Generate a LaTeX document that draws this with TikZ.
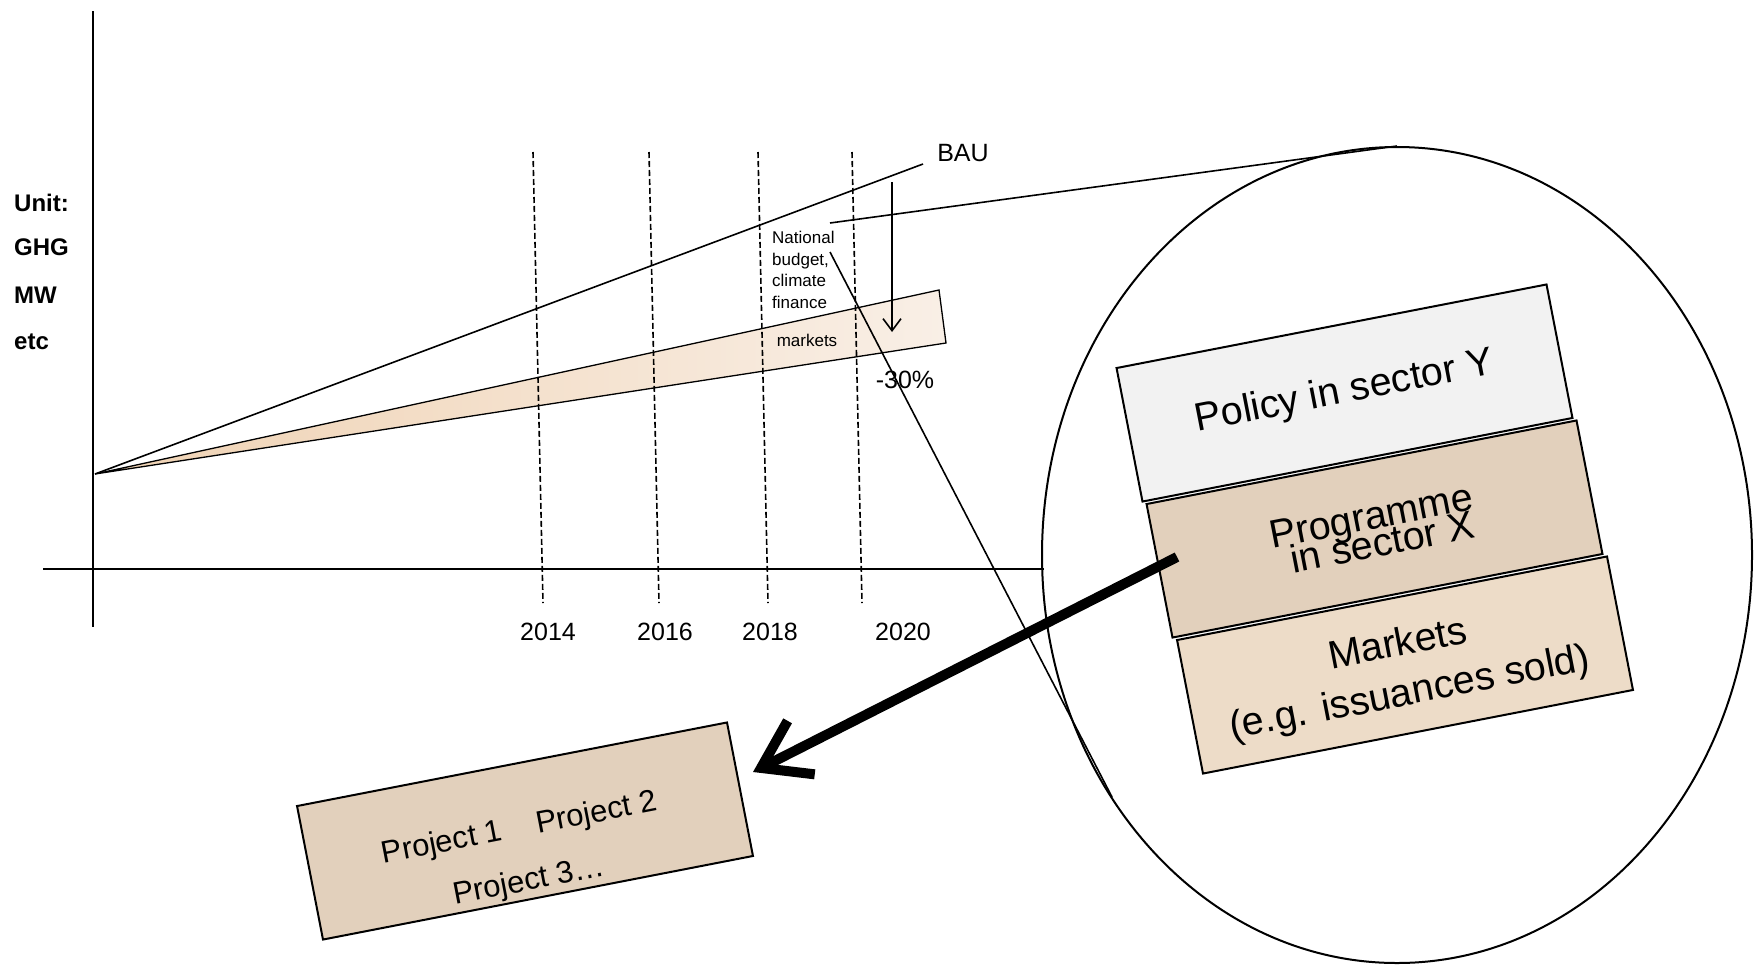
\documentclass[tikz,border=0pt]{standalone}
\usepackage{fontspec}
\setmainfont{Liberation Sans}
\usetikzlibrary{arrows.meta,calc,shapes.geometric}
\definecolor{policyfill}{HTML}{F2F2F2}
\definecolor{progfill}{HTML}{E2D0BC}
\definecolor{mktfill}{HTML}{EDDCC8}
\definecolor{bandL}{HTML}{EFD2B3}
\definecolor{bandR}{HTML}{F9EFE6}
\begin{document}
\begin{tikzpicture}[x=1pt,y=-1pt,
  thinline/.style={line width=1.6pt},
  gridline/.style={line width=1.6pt, dash pattern=on 6pt off 3pt},
  layerbox/.style={draw, line width=2pt, rotate=11, minimum width=438pt,
    minimum height=136pt, inner sep=0pt, align=center},
  boxline/.style={rotate=11, anchor=base, inner sep=0pt, font=\fontsize{39.5}{46}\selectfont},
  projline/.style={rotate=11, anchor=base, inner sep=0pt, font=\fontsize{31}{36}\selectfont},
  yearlbl/.style={font=\fontsize{25}{29}\selectfont},
  unitlbl/.style={anchor=west, inner sep=0pt, font=\bfseries\fontsize{24}{28}\selectfont},
  smalltxt/.style={inner sep=0pt, font=\fontsize{17}{21.7}\selectfont, align=left}
]
\useasboundingbox (0,0) rectangle (1760,967);

% axes
\coordinate (vtop) at (93,11);
\coordinate (vbot) at (93,627);
\coordinate (hl) at (43,569);
\coordinate (hr) at (1044,569);
\draw[thinline] (vtop) -- (vbot);
\draw[thinline] (hl) -- (hr);

% band and BAU
\coordinate (O) at (95,474);
\coordinate (bandT) at (939,290);
\coordinate (bandB) at (946,343);
\coordinate (bauE) at (923,164);
\fill[left color=bandL, right color=bandR] (O) -- (bandT) -- (bandB) -- cycle;
\draw[line width=1.3pt] (O) -- (bandT) -- (bandB) -- cycle;
\draw[thinline] (O) -- (bauE);

% dashed year lines
\draw[gridline] (533,152) -- (543,603);
\draw[gridline] (649,152) -- (659,603);
\draw[gridline] (758,152) -- (768,603);
\draw[gridline] (852,152) -- (862,603);

\node[yearlbl] (y14) at (548,632) {2014};
\node[yearlbl] (y16) at (665,632) {2016};
\node[yearlbl] (y18) at (770,632) {2018};
\node[yearlbl] (y20) at (903,632) {2020};

% unit labels
\node[unitlbl] (u1) at (14,203) {Unit:};
\node[unitlbl] (u2) at (14,247) {GHG};
\node[unitlbl] (u3) at (14,295) {MW};
\node[unitlbl] (u4) at (14,342) {etc};

\node[font=\fontsize{25}{30}\selectfont] (bau) at (963,153) {BAU};
\node[smalltxt, anchor=north west] (natl) at (772,231) {National\\budget,\\climate\\finance};
\node[smalltxt] (mkts) at (807,340) {markets};
\node[font=\fontsize{25}{30}\selectfont, inner sep=0pt] (pct) at (905,380) {-30\%};

% reduction arrow
\coordinate (redS) at (892,182);
\coordinate (redE) at (892,332);
\draw[thinline, -{Straight Barb[length=12pt,width=18pt]}] (redS) -- (redE);

% zoom ellipse
\node[draw, ellipse, line width=2pt, minimum width=710pt, minimum height=816pt, inner sep=0pt] (ell) at (1397,555) {};

% layers
\node[layerbox, fill=policyfill] (policy) at (1344.5,393) {};
\node[layerbox, fill=progfill] (prog) at (1374.5,529) {};
\node[layerbox, fill=mktfill] (mkt) at (1405,665) {};

\node[boxline] (policyt) at ([shift={(policy.center)},rotate=11]0,10) {Policy in sector Y};
\node[boxline] (progt1) at ([shift={(prog.center)},rotate=11]-1,0) {Programme};
\node[boxline] (progt2) at ([shift={(prog.center)},rotate=11]5,28) {in sector X};
\node[boxline] (mktt1) at ([shift={(mkt.center)},rotate=11]-3,-10) {Markets};
\node[boxline] (mktt2) at ([shift={(mkt.center)},rotate=11]-1,40) {(e.g. issuances sold)};

% projects
\node[layerbox, fill=progfill] (proj) at (525,831) {};
\node[projline] (projt1) at ([shift={(proj.center)},rotate=11]-5,5) {Project 1\hspace{35pt}Project 2};
\node[projline] (projt2) at ([shift={(proj.center)},rotate=11]-6,59) {Project 3…};

% connector lines from national budget text
\coordinate (nA) at (830,223);
\coordinate (nB) at (830,252);
\coordinate (ellB) at (1112,797);
\draw[thinline] (nA) -- (ell.north);
\draw[thinline] (nB) -- (ellB);

% thick arrow
\coordinate (arrS) at (1177,557);
\coordinate (arrE) at (753,772);
\draw[line width=10pt, -{Straight Barb[length=45pt,width=60pt]}] (arrS) -- (arrE);
\end{tikzpicture}
\end{document}
